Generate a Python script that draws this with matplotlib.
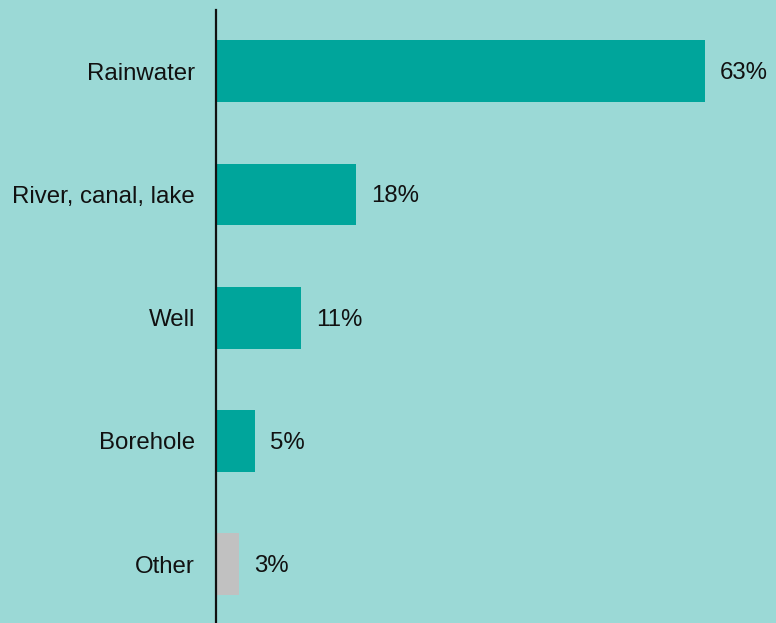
import matplotlib
matplotlib.use("Agg")
import matplotlib.pyplot as plt

# water source shares
sources = ["Rainwater", "River, canal, lake", "Well", "Borehole", "Other"]
shares = [63, 18, 11, 5, 3]
bar_colors = ["#00a59b", "#00a59b", "#00a59b", "#00a59b", "#c1c1c1"]

plt.rcParams["font.family"] = ["Liberation Sans", "DejaVu Sans"]

fig = plt.figure(figsize=(7.76, 6.23), dpi=100)
fig.patch.set_facecolor("#9bd9d6")
ax = fig.add_axes([216 / 776, 0, 560 / 776, 613 / 623])
ax.set_facecolor("#9bd9d6")

pos = list(range(len(sources)))
ax.barh(pos, shares, height=0.5, color=bar_colors)

# value labels just past each bar end
for p, v in zip(pos, shares):
    ax.annotate(f"{v}%", (v, p), xytext=(11, -1.5), textcoords="offset points",
                va="center", ha="left", fontsize=17.3, color="#111111")

ax.set_yticks(pos)
ax.set_yticklabels(sources, fontsize=17.3, color="#111111")
ax.tick_params(axis="y", length=0, pad=15)
ax.set_xticks([])
ax.set_xlim(0, 72.2)
ax.set_ylim(4.476, -0.495)

for side in ["top", "right", "bottom"]:
    ax.spines[side].set_visible(False)
ax.spines["left"].set_linewidth(1.6)
ax.spines["left"].set_color("#111111")

fig.savefig("out.png", dpi=100, facecolor=fig.get_facecolor())
